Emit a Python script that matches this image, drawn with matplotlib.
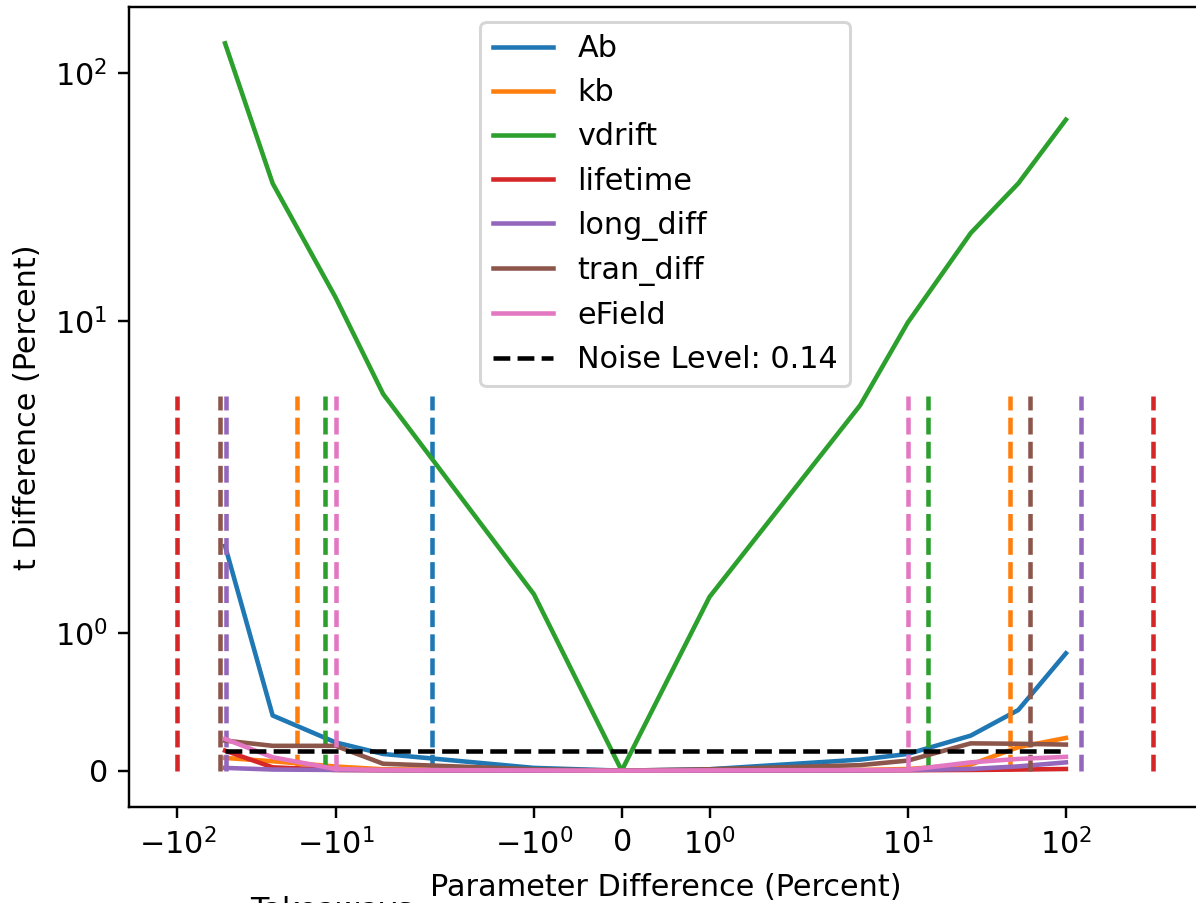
import matplotlib.pyplot as plt

# percent change applied to each parameter
pct = [-50, -25, -10, -5, -1, 0, 1, 5, 10, 25, 50, 100]

params = ["Ab", "kb", "vdrift", "lifetime", "long_diff", "tran_diff", "eField"]

ab = [1.63, 0.40, 0.205, 0.121, 0.02, 0, 0.01, 0.08, 0.121, 0.254, 0.44, 0.851]
kb = [0.092, 0.068, 0.03, 0.01, 0.003, 0, 0.002, 0.005, 0.012, 0.044, 0.17, 0.237]
vdrift = [132, 36, 12.5, 5.1, 1.28, 0, 1.26, 4.6, 9.9, 22.7, 36, 65]
lifetime = [0.145, 0.024, 0.005, 0.003, 0.001, 0, 0.001, 0.002, 0.003, 0.005, 0.008, 0.012]
long_diff = [0.02, 0.008, 0.005, 0.003, 0.001, 0, 0.001, 0.002, 0.004, 0.012, 0.031, 0.06]
tran_diff = [0.218, 0.18, 0.18, 0.05, 0.01, 0, 0.01, 0.04, 0.073, 0.198, 0.195, 0.189]
efield = [0.23, 0.097, 0.012, 0.005, 0.002, 0, 0.002, 0.004, 0.005, 0.06, 0.085, 0.10]

t_diff = [ab, kb, vdrift, lifetime, long_diff, tran_diff, efield]

# where each parameter's shift crosses the noise level (low / high side)
cross_lo = [-2.45, -17.5, -11.7, -100, -49.5, -54, -10]
cross_hi = [None, 44.2, 13.4, 356.6, 125.4, 59.4, 10]

noise = 0.14

dpi = 218
fig = plt.figure(figsize=(1196 / dpi, 903 / dpi), dpi=dpi)
ax = fig.add_axes([0.1076, 0.1063, 0.8974, 0.886])

for i, (name, vals) in enumerate(zip(params, t_diff)):
    color = f"C{i}"
    ax.plot(pct, vals, color=color, label=name)
    xs = [cross_lo[i]] if cross_hi[i] is None else [cross_lo[i], cross_hi[i]]
    ax.vlines(xs, 0, 5, colors=color, linestyles="--")

ax.hlines(noise, pct[0], pct[-1], colors="k", linestyles="--",
          label=f"Noise Level: {noise}")

ax.set_xscale("symlog")
ax.set_yscale("symlog")
ax.set_xlabel("Parameter Difference (Percent)")
ax.set_ylabel("t Difference (Percent)")
ax.legend(loc="upper center")

fig.text(250 / 1196, -0.018, "Takeaways:", va="baseline")

fig.savefig("out.png", dpi=dpi)
